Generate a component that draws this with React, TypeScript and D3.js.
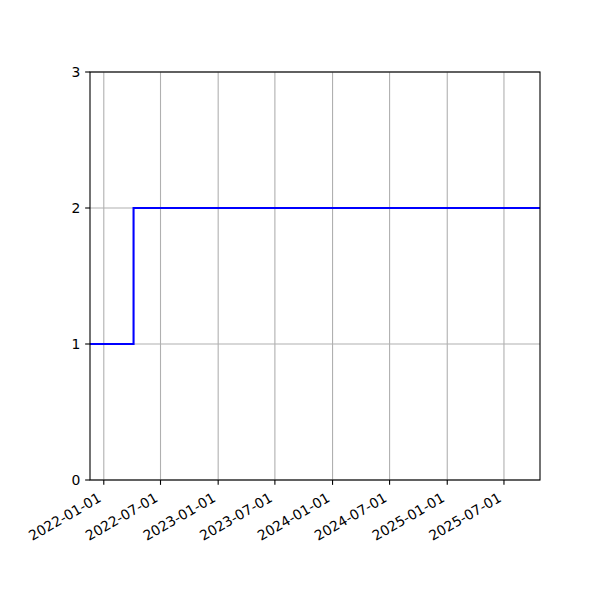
import React from 'react';
import * as d3 from 'd3';

// step series (drawn "post" style)
const dates = ['2021-11-18', '2022-04-06', '2025-10-24'];
const values = [1, 2, 2];
const xTickLabels = [
  '2022-01-01', '2022-07-01', '2023-01-01', '2023-07-01',
  '2024-01-01', '2024-07-01', '2025-01-01', '2025-07-01',
];
const yTicks = [0, 1, 2, 3];

const parse = d3.utcParse('%Y-%m-%d');

const App = () => {
  const width = 600;
  const height = 600;
  const margin = { top: 72, right: 60, bottom: 120, left: 90 };
  const innerW = width - margin.left - margin.right;
  const innerH = height - margin.top - margin.bottom;

  const points = dates.map((d, i) => ({ date: parse(d) as Date, value: values[i] }));

  const x = d3
    .scaleUtc()
    .domain([points[0].date, points[points.length - 1].date])
    .range([0, innerW]);
  const y = d3.scaleLinear().domain([0, 3]).range([innerH, 0]);

  const line = d3
    .line<{ date: Date; value: number }>()
    .x((d) => x(d.date))
    .y((d) => y(d.value))
    .curve(d3.curveStepAfter);

  const font = 'DejaVu Sans, sans-serif';
  const fs = 13.9;

  return (
    <svg width={width} height={height} style={{ display: 'block', margin: -8 }}>
      <rect width={width} height={height} fill="white" />
      <g transform={`translate(${margin.left}, ${margin.top})`}>
        {/* grid */}
        {xTickLabels.map((t) => (
          <line
            key={`gx-${t}`}
            x1={x(parse(t) as Date)}
            x2={x(parse(t) as Date)}
            y1={0}
            y2={innerH}
            stroke="#b0b0b0"
            strokeWidth={1.1}
          />
        ))}
        {yTicks.map((t) => (
          <line key={`gy-${t}`} x1={0} x2={innerW} y1={y(t)} y2={y(t)} stroke="#b0b0b0" strokeWidth={1.1} />
        ))}

        <path d={line(points) || undefined} fill="none" stroke="blue" strokeWidth={2.08} />

        {/* frame */}
        <rect x={0} y={0} width={innerW} height={innerH} fill="none" stroke="black" strokeWidth={1.1} />

        {/* y axis */}
        {yTicks.map((t) => (
          <g key={`yt-${t}`} transform={`translate(0, ${y(t)})`}>
            <line x1={-4.86} x2={0} stroke="black" strokeWidth={1.1} />
            <text x={-9.7} dy="0.35em" textAnchor="end" fontSize={fs} fontFamily={font}>
              {t}
            </text>
          </g>
        ))}

        {/* x axis */}
        {xTickLabels.map((t) => {
          const px = x(parse(t) as Date);
          return (
            <g key={`xt-${t}`} transform={`translate(${px}, ${innerH})`}>
              <line y1={0} y2={4.86} stroke="black" strokeWidth={1.1} />
              <text
                transform="translate(-1.6, 20.7) rotate(-30)"
                textAnchor="end"
                fontSize={fs}
                fontFamily={font}
              >
                {t}
              </text>
            </g>
          );
        })}
      </g>
    </svg>
  );
};

export default App;
